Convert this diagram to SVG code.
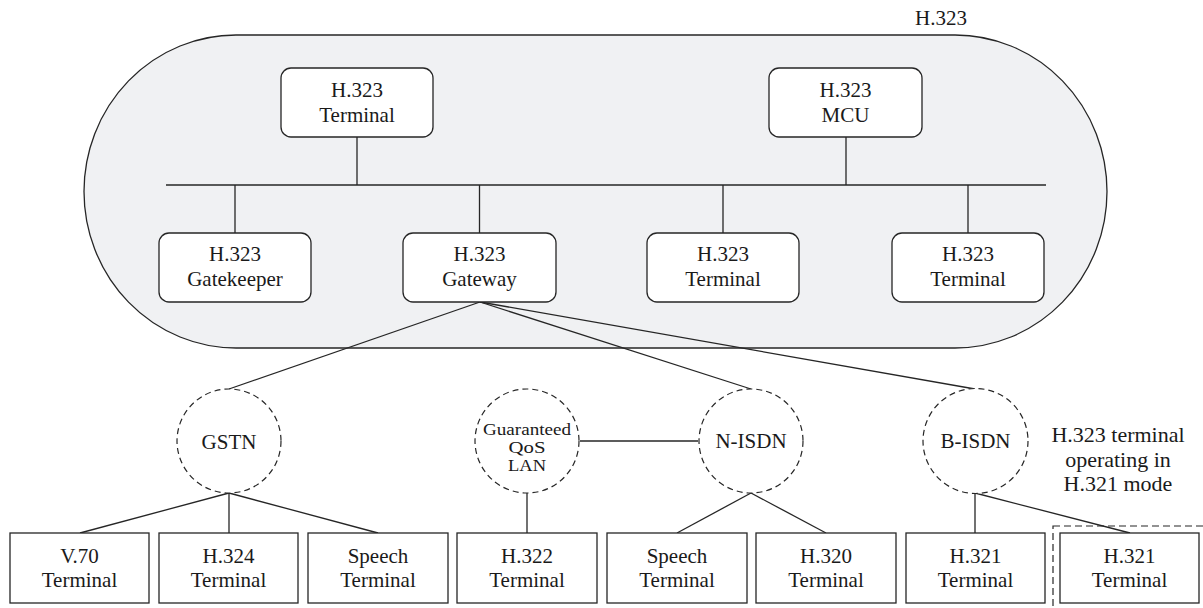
<svg xmlns="http://www.w3.org/2000/svg" width="1203" height="608" viewBox="0 0 1203 608">
  <style>
    .ln { stroke: #262626; stroke-width: 1.3; fill: none; }
    .box { fill: #ffffff; stroke: #262626; stroke-width: 1.3; }
    .net { fill: #ffffff; stroke: #262626; stroke-width: 1.2; stroke-dasharray: 6 4; }
    .t { font-family: "Liberation Serif", "Times New Roman", serif; font-size: 21px; fill: #1a1a1a; text-anchor: middle; }
    .ts { font-family: "Liberation Serif", "Times New Roman", serif; font-size: 16.5px; fill: #1a1a1a; text-anchor: middle; }
    .ta { font-family: "Liberation Serif", "Times New Roman", serif; font-size: 22px; fill: #1a1a1a; text-anchor: middle; }
  </style>

  <rect width="1203" height="608" fill="#ffffff"/>

  <!-- H.323 zone -->
  <g id="zone-h323">
    <rect x="84" y="35" width="1023" height="313" rx="152" ry="156.5" fill="#f0f1f3" stroke="#262626" stroke-width="1.3"/>
    <text class="t" x="941" y="25">H.323</text>
  </g>

  <!-- connectors -->
  <g id="connectors">
    <!-- LAN bus and stems -->
    <line class="ln" x1="166" y1="185" x2="1046" y2="185"/>
    <line class="ln" x1="357" y1="137" x2="357" y2="185"/>
    <line class="ln" x1="846" y1="137" x2="846" y2="185"/>
    <line class="ln" x1="235" y1="185" x2="235" y2="233"/>
    <line class="ln" x1="479.5" y1="185" x2="479.5" y2="233"/>
    <line class="ln" x1="723" y1="185" x2="723" y2="233"/>
    <line class="ln" x1="968" y1="185" x2="968" y2="233"/>
    <!-- gateway to switched networks -->
    <line class="ln" x1="480" y1="302" x2="229" y2="389"/>
    <line class="ln" x1="480" y1="302" x2="751" y2="389"/>
    <line class="ln" x1="480" y1="302" x2="975" y2="389"/>
    <!-- LAN to N-ISDN -->
    <line class="ln" x1="580" y1="441" x2="698" y2="441"/>
    <!-- GSTN terminals -->
    <line class="ln" x1="229" y1="493" x2="80" y2="533"/>
    <line class="ln" x1="229" y1="493" x2="229" y2="533"/>
    <line class="ln" x1="229" y1="493" x2="378" y2="533"/>
    <!-- LAN terminal -->
    <line class="ln" x1="527" y1="493" x2="527" y2="533"/>
    <!-- N-ISDN terminals -->
    <line class="ln" x1="751" y1="493" x2="677" y2="533"/>
    <line class="ln" x1="751" y1="493" x2="826" y2="533"/>
    <!-- B-ISDN terminals -->
    <line class="ln" x1="975" y1="493" x2="975" y2="533"/>
    <line class="ln" x1="975" y1="493" x2="1130" y2="533"/>
  </g>

  <!-- H.323 entities -->
  <g id="h323-terminal-top">
    <rect class="box" x="281" y="68" width="152" height="69" rx="10"/>
    <text class="t" x="357" y="97">H.323</text>
    <text class="t" x="357" y="122">Terminal</text>
  </g>
  <g id="h323-mcu">
    <rect class="box" x="769" y="68" width="153" height="69" rx="10"/>
    <text class="t" x="845.5" y="97">H.323</text>
    <text class="t" x="845.5" y="122">MCU</text>
  </g>
  <g id="h323-gatekeeper">
    <rect class="box" x="159" y="233" width="152" height="69" rx="10"/>
    <text class="t" x="235" y="261">H.323</text>
    <text class="t" x="235" y="286">Gatekeeper</text>
  </g>
  <g id="h323-gateway">
    <rect class="box" x="403" y="233" width="153" height="69" rx="10"/>
    <text class="t" x="479.5" y="261">H.323</text>
    <text class="t" x="479.5" y="286">Gateway</text>
  </g>
  <g id="h323-terminal-a">
    <rect class="box" x="647" y="233" width="152" height="69" rx="10"/>
    <text class="t" x="723" y="261">H.323</text>
    <text class="t" x="723" y="286">Terminal</text>
  </g>
  <g id="h323-terminal-b">
    <rect class="box" x="892" y="233" width="152" height="69" rx="10"/>
    <text class="t" x="968" y="261">H.323</text>
    <text class="t" x="968" y="286">Terminal</text>
  </g>

  <!-- networks -->
  <g id="net-gstn">
    <circle class="net" cx="229" cy="441" r="52"/>
    <text class="t" x="229" y="449">GSTN</text>
  </g>
  <g id="net-qos-lan">
    <circle class="net" cx="527" cy="441" r="52"/>
    <text class="ts" x="527" y="434.5" textLength="88" lengthAdjust="spacingAndGlyphs">Guaranteed</text>
    <text class="ts" x="527" y="452.8" textLength="37" lengthAdjust="spacingAndGlyphs">QoS</text>
    <text class="ts" x="527" y="471.1" textLength="38" lengthAdjust="spacingAndGlyphs">LAN</text>
  </g>
  <g id="net-n-isdn">
    <circle class="net" cx="751" cy="441" r="52"/>
    <text class="t" x="751" y="448">N-ISDN</text>
  </g>
  <g id="net-b-isdn">
    <circle class="net" cx="975.5" cy="441" r="52.5"/>
    <text class="t" x="975.5" y="448">B-ISDN</text>
  </g>

  <!-- endpoint terminals -->
  <g id="term-v70">
    <rect class="box" x="10" y="533" width="139" height="70"/>
    <text class="t" x="79.5" y="563">V.70</text>
    <text class="t" x="79.5" y="587">Terminal</text>
  </g>
  <g id="term-h324">
    <rect class="box" x="159" y="533" width="139" height="70"/>
    <text class="t" x="228.5" y="563">H.324</text>
    <text class="t" x="228.5" y="587">Terminal</text>
  </g>
  <g id="term-speech-gstn">
    <rect class="box" x="308" y="533" width="140" height="70"/>
    <text class="t" x="378" y="563">Speech</text>
    <text class="t" x="378" y="587">Terminal</text>
  </g>
  <g id="term-h322">
    <rect class="box" x="457" y="533" width="140" height="70"/>
    <text class="t" x="527" y="563">H.322</text>
    <text class="t" x="527" y="587">Terminal</text>
  </g>
  <g id="term-speech-isdn">
    <rect class="box" x="607" y="533" width="140" height="70"/>
    <text class="t" x="677" y="563">Speech</text>
    <text class="t" x="677" y="587">Terminal</text>
  </g>
  <g id="term-h320">
    <rect class="box" x="756" y="533" width="140" height="70"/>
    <text class="t" x="826" y="563">H.320</text>
    <text class="t" x="826" y="587">Terminal</text>
  </g>
  <g id="term-h321">
    <rect class="box" x="906" y="533" width="139" height="70"/>
    <text class="t" x="975.5" y="563">H.321</text>
    <text class="t" x="975.5" y="587">Terminal</text>
  </g>
  <g id="term-h321-h323mode">
    <rect x="1053" y="526" width="160" height="100" fill="none" stroke="#262626" stroke-width="1.2" stroke-dasharray="7 4"/>
    <rect class="box" x="1060" y="533" width="139" height="70"/>
    <text class="t" x="1129.5" y="563">H.321</text>
    <text class="t" x="1129.5" y="587">Terminal</text>
    <text class="ta" x="1118" y="442">H.323 terminal</text>
    <text class="ta" x="1118" y="466.5">operating in</text>
    <text class="ta" x="1118" y="491">H.321 mode</text>
  </g>
</svg>
